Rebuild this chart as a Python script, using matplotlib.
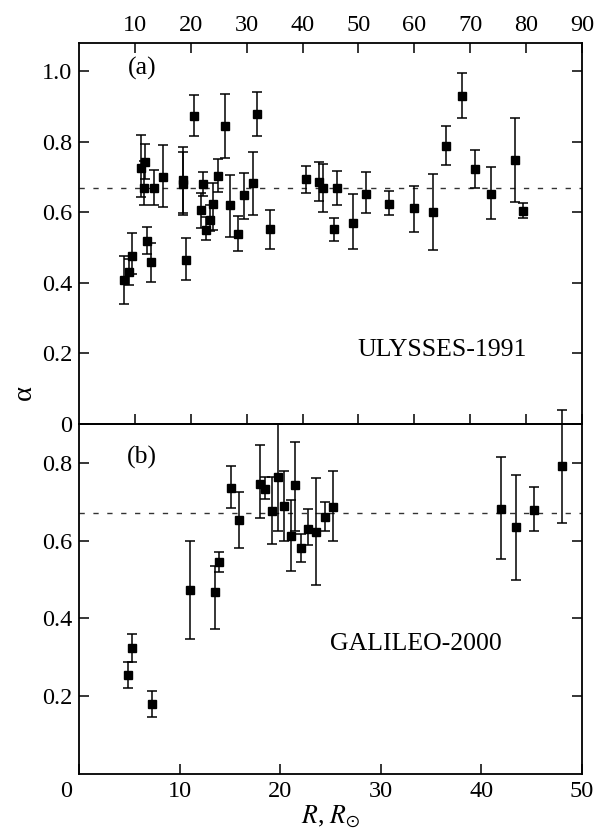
import numpy as np
import matplotlib
matplotlib.use("Agg")
import matplotlib.pyplot as plt
import matplotlib.transforms as mtransforms

plt.rcParams['font.family'] = ['Liberation Serif', 'DejaVu Serif']
plt.rcParams['mathtext.fontset'] = 'stix'
plt.rcParams['lines.scale_dashes'] = False

# Ulysses-1991: heliocentric distance, index and error limits
r_uly = [8.1, 8.9, 9.5, 11.1, 11.8, 11.6, 12.2, 12.8, 13.4, 15.0, 18.6, 18.6, 19.1, 20.6,
         21.8, 22.1, 22.7, 23.4, 23.9, 24.9, 26.2, 27.1, 28.5, 29.6, 31.1, 31.8, 34.2,
         40.7, 42.9, 43.7, 45.6, 46.2, 49.1, 51.4, 55.5, 59.9, 63.4, 65.7, 68.5, 70.9,
         73.7, 78.1, 79.5]
a_uly = [0.408, 0.432, 0.477, 0.727, 0.743, 0.668, 0.520, 0.458, 0.669, 0.699, 0.693, 0.679,
         0.466, 0.873, 0.608, 0.679, 0.550, 0.578, 0.625, 0.703, 0.845, 0.622, 0.540, 0.648,
         0.682, 0.878, 0.552, 0.694, 0.686, 0.669, 0.552, 0.669, 0.571, 0.653, 0.625, 0.611,
         0.601, 0.789, 0.931, 0.722, 0.653, 0.747, 0.605]
lo_uly = [0.340, 0.394, 0.424, 0.644, 0.694, 0.620, 0.482, 0.403, 0.620, 0.616, 0.597, 0.592,
          0.408, 0.816, 0.556, 0.646, 0.521, 0.548, 0.550, 0.657, 0.755, 0.529, 0.491, 0.580,
          0.592, 0.816, 0.496, 0.655, 0.633, 0.602, 0.519, 0.622, 0.496, 0.597, 0.592, 0.544,
          0.493, 0.733, 0.867, 0.670, 0.582, 0.630, 0.585]
hi_uly = [0.477, 0.467, 0.542, 0.818, 0.793, 0.746, 0.559, 0.514, 0.721, 0.790, 0.786, 0.772,
          0.526, 0.934, 0.655, 0.714, 0.587, 0.620, 0.682, 0.750, 0.935, 0.705, 0.590, 0.712,
          0.771, 0.940, 0.606, 0.731, 0.743, 0.736, 0.585, 0.718, 0.651, 0.715, 0.660, 0.674,
          0.710, 0.846, 0.995, 0.776, 0.728, 0.867, 0.627]

# Galileo-2000
r_gal = [4.84, 5.27, 7.26, 11.07, 13.49, 13.88, 15.14, 15.9, 17.99, 18.49, 19.15, 19.78,
         20.38, 21.1, 21.47, 22.07, 22.73, 23.59, 24.49, 25.28, 41.95, 43.47, 45.23, 47.98]
a_gal = [0.254, 0.323, 0.179, 0.474, 0.467, 0.545, 0.735, 0.653, 0.746, 0.733, 0.677, 0.765,
         0.688, 0.613, 0.742, 0.580, 0.630, 0.623, 0.661, 0.687, 0.681, 0.635, 0.679, 0.793]
lo_gal = [0.222, 0.287, 0.147, 0.347, 0.372, 0.519, 0.684, 0.581, 0.658, 0.707, 0.592, 0.626,
          0.600, 0.521, 0.624, 0.544, 0.588, 0.487, 0.625, 0.599, 0.553, 0.498, 0.624, 0.645]
hi_gal = [0.287, 0.359, 0.214, 0.599, 0.536, 0.570, 0.791, 0.724, 0.847, 0.765, 0.764, 0.900,
          0.780, 0.705, 0.855, 0.616, 0.682, 0.762, 0.700, 0.778, 0.814, 0.770, 0.737, 0.937]

alpha_mean = 0.67

top_ticks = [10, 20, 30, 40, 50, 60, 70, 80, 90]
top_yticks = [0, 0.2, 0.4, 0.6, 0.8, 1.0]
top_ylabels = ['0', '0.2', '0.4', '0.6', '0.8', '1.0']
bot_ticks = [0, 10, 20, 30, 40, 50]
bot_yticks = [0.2, 0.4, 0.6, 0.8]
bot_ylabels = ['0.2', '0.4', '0.6', '0.8']

TICK_FS = 17.5
TEXT_FS = 18.5

fig = plt.figure(figsize=(6.06, 8.35), dpi=100)
ax1 = fig.add_axes([79 / 606, 1 - 424 / 835, 503 / 606, 381 / 835])
ax2 = fig.add_axes([79 / 606, 1 - 774 / 835, 503 / 606, 350 / 835])
ax2.set_zorder(2)
ax2.patch.set_alpha(0)


def draw_panel(ax, r, a, lo, hi):
    a = np.array(a)
    yerr = [a - np.array(lo), np.array(hi) - a]
    ax.errorbar(r, a, yerr=yerr, fmt='s', color='black', ms=6.3, mec='black',
                elinewidth=1.1, capsize=3.6, capthick=1.1, clip_on=False, zorder=3)
    ax.axhline(alpha_mean, color='#333333', lw=1.0, dashes=(3.8, 6.2), zorder=1)
    for s in ax.spines.values():
        s.set_linewidth(1.3)
    ax.tick_params(which='both', direction='in', length=7.5, width=1.1,
                   labelsize=TICK_FS, pad=5)


# (a) Ulysses
draw_panel(ax1, r_uly, a_uly, lo_uly, hi_uly)
ax1.set_xlim(0, 90)
ax1.set_ylim(0, 1.08)
ax1.set_xticks(top_ticks)
ax1.set_yticks(top_yticks)
ax1.set_yticklabels(top_ylabels)
ax1.tick_params(axis='x', top=True, bottom=True, labeltop=True, labelbottom=False)
ax1.tick_params(axis='y', left=True, right=True)
ax1.text(0.125, 0.934, '(a)', fontsize=TEXT_FS, ha='center', va='center',
         transform=ax1.transAxes)
ax1.text(0.89, 0.195, 'ULYSSES-1991', fontsize=TEXT_FS, ha='right', va='center',
         transform=ax1.transAxes)

# (b) Galileo
draw_panel(ax2, r_gal, a_gal, lo_gal, hi_gal)
ax2.set_xlim(0, 50)
ax2.set_ylim(0, 0.9)
ax2.set_xticks(bot_ticks)
ax2.set_yticks(bot_yticks)
ax2.set_yticklabels(bot_ylabels)
ax2.tick_params(axis='x', top=False, bottom=True)
ax2.tick_params(axis='y', left=True, right=True)
ax2.text(0.125, 0.904, '(b)', fontsize=TEXT_FS, ha='center', va='center',
         transform=ax2.transAxes)
ax2.text(0.84, 0.37, 'GALILEO-2000', fontsize=TEXT_FS, ha='right', va='center',
         transform=ax2.transAxes)
ax2.set_xlabel(r'$R$, $R_{\odot}$', fontsize=TEXT_FS, labelpad=1)

# move the "0" of the distance scale a little to the left
shift = mtransforms.ScaledTranslation(-0.13, 0, fig.dpi_scale_trans)
lab0 = ax2.get_xticklabels()[0]
lab0.set_transform(lab0.get_transform() + shift)

fig.text(24 / 606, 1 - 393 / 835, 'α', fontsize=TEXT_FS + 2, rotation=90,
         ha='center', va='center')

fig.savefig('out.png', dpi=100)
